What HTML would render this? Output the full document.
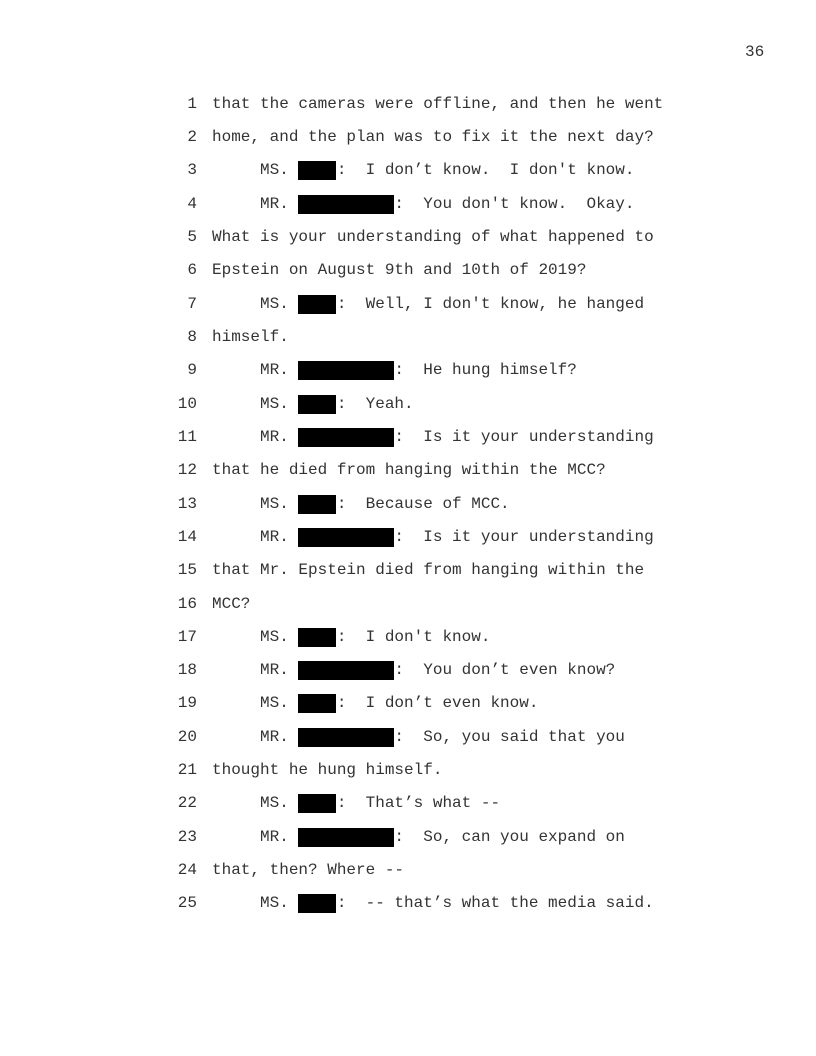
<!DOCTYPE html>
<html><head><style>
body{margin:0;background:#fff;}
.p{position:relative;width:816px;height:1056px;font-family:"Liberation Mono",monospace;font-size:16px;color:#333;}
.r{position:absolute;left:0;width:816px;height:20px;line-height:20px;white-space:pre;}
.r span.n{position:absolute;left:0;width:197px;text-align:right;}
.r span.t{position:absolute;left:212px;}
.r i{position:absolute;top:1px;height:19px;background:#000;left:298px;}
.s{width:38px}.m{width:96px}
</style></head><body><div class="p">
<div class="r" style="top:42px;left:745px;width:40px">36</div>
<div class="r" style="top:94px"><span class="n">1</span><span class="t">that the cameras were offline, and then he went</span></div>
<div class="r" style="top:127px"><span class="n">2</span><span class="t">home, and the plan was to fix it the next day?</span></div>
<div class="r" style="top:160px"><span class="n">3</span><span class="t">     MS.     :  I don’t know.  I don't know.</span><i class="s"></i></div>
<div class="r" style="top:194px"><span class="n">4</span><span class="t">     MR.           :  You don't know.  Okay.</span><i class="m"></i></div>
<div class="r" style="top:227px"><span class="n">5</span><span class="t">What is your understanding of what happened to</span></div>
<div class="r" style="top:260px"><span class="n">6</span><span class="t">Epstein on August 9th and 10th of 2019?</span></div>
<div class="r" style="top:294px"><span class="n">7</span><span class="t">     MS.     :  Well, I don't know, he hanged</span><i class="s"></i></div>
<div class="r" style="top:327px"><span class="n">8</span><span class="t">himself.</span></div>
<div class="r" style="top:360px"><span class="n">9</span><span class="t">     MR.           :  He hung himself?</span><i class="m"></i></div>
<div class="r" style="top:394px"><span class="n">10</span><span class="t">     MS.     :  Yeah.</span><i class="s"></i></div>
<div class="r" style="top:427px"><span class="n">11</span><span class="t">     MR.           :  Is it your understanding</span><i class="m"></i></div>
<div class="r" style="top:460px"><span class="n">12</span><span class="t">that he died from hanging within the MCC?</span></div>
<div class="r" style="top:494px"><span class="n">13</span><span class="t">     MS.     :  Because of MCC.</span><i class="s"></i></div>
<div class="r" style="top:527px"><span class="n">14</span><span class="t">     MR.           :  Is it your understanding</span><i class="m"></i></div>
<div class="r" style="top:560px"><span class="n">15</span><span class="t">that Mr. Epstein died from hanging within the</span></div>
<div class="r" style="top:594px"><span class="n">16</span><span class="t">MCC?</span></div>
<div class="r" style="top:627px"><span class="n">17</span><span class="t">     MS.     :  I don't know.</span><i class="s"></i></div>
<div class="r" style="top:660px"><span class="n">18</span><span class="t">     MR.           :  You don’t even know?</span><i class="m"></i></div>
<div class="r" style="top:693px"><span class="n">19</span><span class="t">     MS.     :  I don’t even know.</span><i class="s"></i></div>
<div class="r" style="top:727px"><span class="n">20</span><span class="t">     MR.           :  So, you said that you</span><i class="m"></i></div>
<div class="r" style="top:760px"><span class="n">21</span><span class="t">thought he hung himself.</span></div>
<div class="r" style="top:793px"><span class="n">22</span><span class="t">     MS.     :  That’s what --</span><i class="s"></i></div>
<div class="r" style="top:827px"><span class="n">23</span><span class="t">     MR.           :  So, can you expand on</span><i class="m"></i></div>
<div class="r" style="top:860px"><span class="n">24</span><span class="t">that, then? Where --</span></div>
<div class="r" style="top:893px"><span class="n">25</span><span class="t">     MS.     :  -- that’s what the media said.</span><i class="s"></i></div>
</div></body></html>
